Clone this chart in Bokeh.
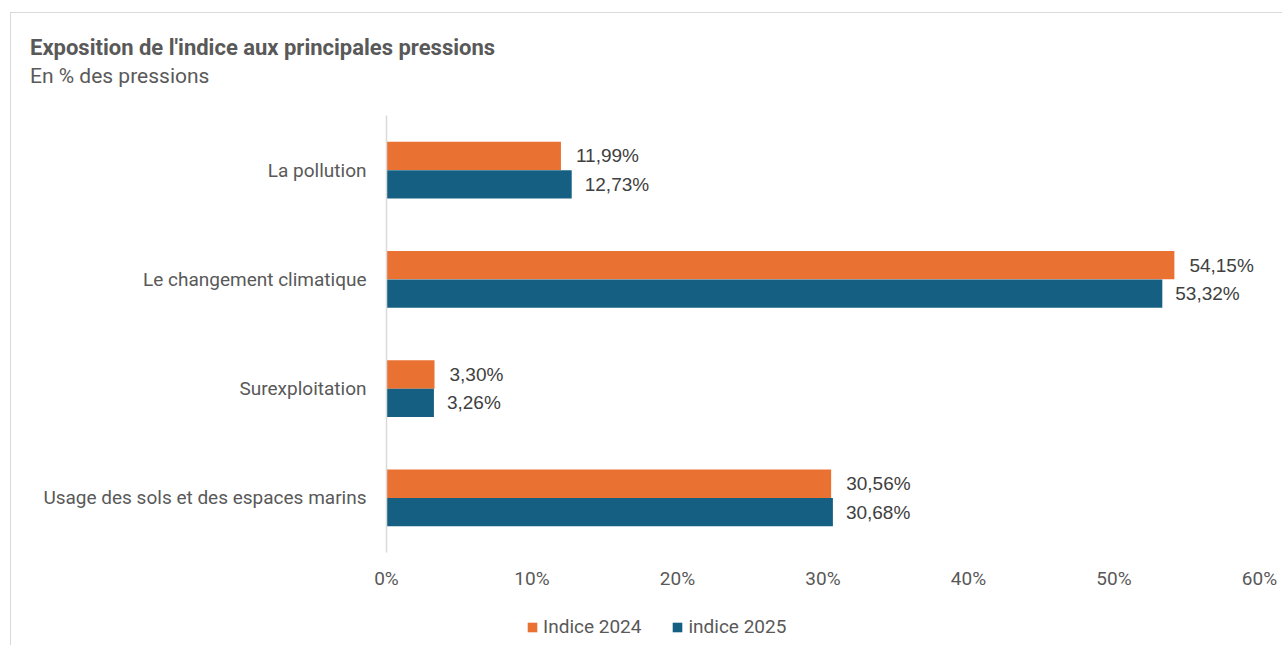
from bokeh.plotting import figure
from bokeh.layouts import column
from bokeh.models import (ColumnDataSource, FactorRange, FixedTicker, Legend,
                          LegendItem, Range1d, Div)
from bokeh.transform import dodge
from bokeh.core.properties import value
from bokeh.embed import file_html
from bokeh.resources import INLINE

# ---- data ----
categories = ["La pollution", "Le changement climatique", "Surexploitation",
              "Usage des sols et des espaces marins"]
indice_2024 = [11.99, 54.15, 3.30, 30.56]
indice_2025 = [12.73, 53.32, 3.26, 30.68]
series_names = ["Indice 2024", "indice 2025"]
tick_values = [0, 10, 20, 30, 40, 50, 60]
tick_labels = ["0%", "10%", "20%", "30%", "40%", "50%", "60%"]
title_text = "Exposition de l'indice aux principales pressions"
subtitle_text = "En % des pressions"


def fmt(v):
    return f"{v:.2f}%".replace(".", ",")


src = ColumnDataSource(dict(
    cat=categories,
    v24=indice_2024,
    v25=indice_2025,
    l24=[fmt(v) for v in indice_2024],
    l25=[fmt(v) for v in indice_2025],
))

ORANGE = "#E97132"
TEAL = "#156082"
GRAY = "#595959"
W = 1272


def bare(fig):
    fig.border_fill_alpha = 0
    fig.background_fill_alpha = 0
    fig.outline_line_color = None
    return fig


# ---- header (title + subtitle) ----
head = Div(width=W, height=100, margin=0, text=(
    '<div style="padding:24px 0 0 20px;font-family:Roboto;color:#595959;'
    'line-height:24px;white-space:nowrap">'
    f'<div style="font-weight:bold;font-size:22px">{title_text}</div>'
    f'<div style="font-size:21px;margin-top:4px">{subtitle_text}</div>'
    '</div>'))

# ---- main chart ----
p = bare(figure(width=W, height=488,
                y_range=FactorRange(factors=categories[::-1]),
                x_range=(0, 60),
                output_backend="svg", toolbar_location=None,
                min_border_left=376, min_border_right=23,
                min_border_top=3, min_border_bottom=48))
p.grid.visible = False

bh = 0.26
r24 = p.hbar(y=dodge("cat", bh / 2, range=p.y_range), left=0, right="v24",
             height=bh, source=src, fill_color=ORANGE, line_color=None)
r25 = p.hbar(y=dodge("cat", -bh / 2, range=p.y_range), left=0, right="v25",
             height=bh, source=src, fill_color=TEAL, line_color=None)

p.text(x="v24", y=dodge("cat", bh / 2, range=p.y_range), text="l24", source=src,
       x_offset=15, text_baseline="middle", text_align="left",
       text_font=value("Liberation Sans"), text_font_size="19px", text_color="#404040")
p.text(x="v25", y=dodge("cat", -bh / 2, range=p.y_range), text="l25", source=src,
       x_offset=13, text_baseline="middle", text_align="left",
       text_font=value("Liberation Sans"), text_font_size="19px", text_color="#404040")

p.xaxis.ticker = FixedTicker(ticks=tick_values)
p.xaxis.major_label_overrides = {t: l for t, l in zip(tick_values, tick_labels)}
p.xaxis.axis_line_color = None
p.xaxis.major_tick_line_color = None
p.xaxis.major_tick_out = 0
p.xaxis.major_tick_in = 0
p.xaxis.minor_tick_line_color = None
p.xaxis.major_label_standoff = 14
p.xaxis.major_label_text_font = "Roboto"
p.xaxis.major_label_text_font_size = "19px"
p.xaxis.major_label_text_color = GRAY

p.yaxis.axis_line_color = "#D9D9D9"
p.yaxis.axis_line_width = 1.5
p.yaxis.major_tick_line_color = None
p.yaxis.major_tick_out = 0
p.yaxis.major_tick_in = 0
p.yaxis.minor_tick_line_color = None
p.yaxis.major_label_standoff = 20
p.yaxis.major_label_text_font = "Roboto"
p.yaxis.major_label_text_font_size = "19px"
p.yaxis.major_label_text_color = GRAY

# ---- legend strip (proxy renderers are hidden; only their legend swatches show) ----
leg = bare(figure(width=W, height=45, x_axis_type=None, y_axis_type=None,
                  x_range=Range1d(0, 1), y_range=Range1d(0, 1),
                  output_backend="svg", toolbar_location=None, min_border=0))
leg.grid.visible = False
g24 = leg.hbar(y="v24", right="v24", left=0, height=0.5, source=src,
               fill_color=ORANGE, line_color=None, visible=False)
g25 = leg.hbar(y="v25", right="v25", left=0, height=0.5, source=src,
               fill_color=TEAL, line_color=None, visible=False)
legend = Legend(items=[LegendItem(label=series_names[0], renderers=[g24]),
                       LegendItem(label=series_names[1], renderers=[g25])],
                orientation="horizontal", location=(140, 7),
                glyph_width=12, glyph_height=12, label_standoff=5, spacing=30,
                padding=0, margin=0, border_line_color=None, background_fill_alpha=0,
                inactive_fill_alpha=0,
                label_text_font="Roboto", label_text_font_size="19px",
                label_text_color=GRAY)
leg.add_layout(legend, "center")

layout = column(head, p, leg, spacing=0)
layout.margin = (12, 0, 0, 10)
layout.styles = {"box-shadow": "inset 1px 1px 0 0 #D9D9D9"}

open("out.html", "w").write(file_html(layout, INLINE))
